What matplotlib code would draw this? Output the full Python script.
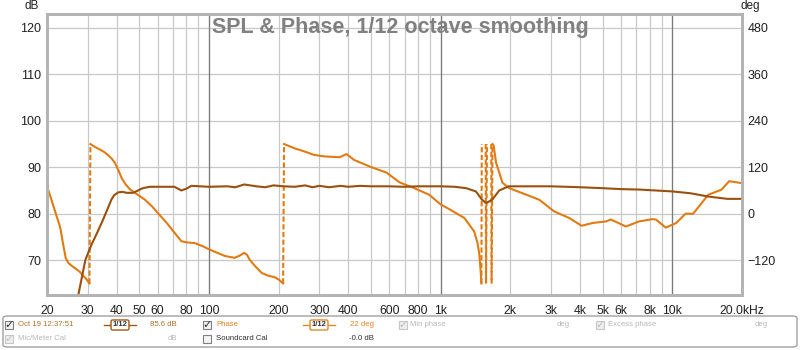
import matplotlib.pyplot as plt
import numpy as np
from matplotlib.patches import FancyBboxPatch, Rectangle

plt.rcParams['font.family'] = ['Liberation Sans', 'DejaVu Sans']

# SPL trace (dB)
spl_freq = [25.5, 27.3, 29.3, 31.1, 33.0, 34.9, 36.5, 37.9, 39.0, 40.6, 42.5, 44.1, 47.0, 49.0, 51.2,
            53.0, 55.6, 65, 71, 76, 80, 84,
            100, 120, 130, 142, 160, 175, 190, 210, 235, 260, 280, 300, 330, 370, 400, 450, 500,
            600, 700, 800, 1000, 1150, 1290, 1420, 1510, 1572, 1670, 1790, 1970, 2500, 3000,
            4000, 5000, 6000, 7230, 10000, 12000, 14300, 17300, 20000]
spl_db = [56, 62.5, 70.1, 73.3, 76.0, 78.7, 81.0, 83.0, 84.0, 84.6, 84.7, 84.5, 84.5, 84.9, 85.4,
          85.6, 85.8, 85.8, 85.8, 85.0, 85.4, 86.0,
          85.8, 85.9, 85.7, 86.3, 85.9, 85.7, 86.1, 85.9, 85.8, 86.1, 85.7, 86.0, 85.7, 86.0, 85.8, 86.0, 85.9,
          85.9, 85.8, 85.9, 85.9, 85.8, 85.5, 84.8, 83.0, 82.3, 83.0, 85.0, 85.9, 85.9, 85.9,
          85.7, 85.5, 85.3, 85.2, 84.8, 84.4, 83.7, 83.2, 83.2]

# Phase trace (deg, wrapped to +/-180, nan = gap)
phase_freq = [20, 20.8, 21.7, 22.8, 23.5, 24.1, 24.8, 25.6, 26.6, 27.7, 28.6, 29.5, 30.5,
              30.8, 32.3, 33.8, 35.2, 36.6, 38, 39.3, 40.7, 42, 43.8, 45.6, 49, 53, 57, 61,
              66, 71, 76, 80, 87, 94, 101, 117, 124, 129, 136, 142, 146, 150, 158, 169, 180, 192,
              200, 209, 211, 234, 258, 284, 316, 366,
              393, 423, 494, 585, 665, 770, 893, 1000, 1096, 1266, 1397, 1444, 1470, 1490, 1500,
              1506, 1530, 1566, 1571, 1585, 1620, 1655, 1660, 1675, 1695, 1735, 1850, 1980, 2300,
              2668, 3090, 3590, 4060, 4530, 5170, 5430, 6310, 7180, 8210, 8500, 9380, 10400,
              11400, 12300, 13050, 14300, 16300, 17600, 20000]
phase_deg = [71, 40, 5, -35, -80, -115, -128, -135, -142, -150, -160, -168, -180,
             180, 172, 166, 160, 152, 143, 131, 112, 92, 75, 63, 50, 36, 18, -2,
             -25, -49, -71, -74, -76, -84, -93, -109, -112, -114, -108, -101, -106, -119, -135, -153, -160, -164,
             -170, -180, 180, 169, 161, 152, 148, 146,
             154, 139, 122, 106, 81, 66, 49, 24, 11, -11, -46, -76, -105, -150, -180,
             180, np.nan, 180, -180, 180, np.nan, 180, -180, 180, 176, 132, 80, 66, 51,
             36, 6, -11, -31, -24, -20, -15, -33, -20, -14, -15, -36, -24,
             0, 0, 19, 49, 62, 84, 79]

x_ticks = [20, 30, 40, 50, 60, 80, 100, 200, 300, 400, 600, 800, 1000,
           2000, 3000, 4000, 5000, 6000, 8000, 10000, 20000]
x_labels = ['20', '30', '40', '50', '60', '80', '100', '200', '300', '400', '600', '800', '1k',
            '2k', '3k', '4k', '5k', '6k', '8k', '10k', '20.0kHz']
extra_grid = [70, 90, 500, 700, 900, 7000, 9000]
decades = [100, 1000, 10000]
db_ticks = [70, 80, 90, 100, 110, 120]
deg_ticks = [-120, 0, 120, 240, 360, 480]

spl_color = '#9a500e'
phase_color = '#e07b14'
W, H = 800, 350

fig = plt.figure(figsize=(8, 3.5), dpi=100)
ax = fig.add_axes([47 / W, 55 / H, 695 / W, 281 / H])
ax2 = ax.twinx()

ax.set_xscale('log')
for f in extra_grid:
    ax.axvline(f, color='#c8c8c8', lw=0.9, zorder=0.5)
for f in decades:
    ax.axvline(f, color='#7a7a7a', lw=0.9, zorder=0.6)
ax.grid(True, which='major', color='#c8c8c8', lw=0.9, zorder=0.4)
ax.set_axisbelow(True)

fig.text(0.5, 1 - 27 / H, 'SPL & Phase, 1/12 octave smoothing',
         ha='center', va='center', fontsize=15.5, fontweight='bold', color='#808080', zorder=1)

# phase: solid runs, dashed at wrap jumps
pf = np.array(phase_freq, dtype=float)
pd_ = np.array(phase_deg, dtype=float)
solid_f, solid_p = [], []
for i in range(len(pf)):
    if i > 0 and not np.isnan(pd_[i]) and not np.isnan(pd_[i - 1]) and abs(pd_[i] - pd_[i - 1]) > 180:
        ax.plot(pf[i - 1:i + 1], pd_[i - 1:i + 1], color=phase_color, lw=1.5, ls=(0, (2.5, 1.2)),
                transform=ax2.transData, zorder=2)
        solid_f.append(np.nan)
        solid_p.append(np.nan)
    solid_f.append(pf[i])
    solid_p.append(pd_[i])
ax.plot(solid_f, solid_p, color=phase_color, lw=1.5, transform=ax2.transData, zorder=2,
        solid_joinstyle='round')

ax.plot(spl_freq, spl_db, color=spl_color, lw=1.5, zorder=3, solid_joinstyle='round')

ax.set_xlim(20, 20000)
ax.set_ylim(62.5, 123)
ax2.set_ylim((62.5 - 80) * 12, (123 - 80) * 12)

ax.set_xticks(x_ticks)
ax.set_xticklabels(x_labels)
ax.xaxis.set_minor_locator(plt.NullLocator())
ax.set_yticks(db_ticks)
ax2.set_yticks(deg_ticks)
ax.tick_params(axis='both', length=0, labelsize=9, colors='#202020')
ax.tick_params(axis='x', pad=7, labelsize=8.7)
ax.tick_params(axis='y', pad=4)
ax2.tick_params(axis='y', length=0, labelsize=9, colors='#202020', pad=4)

for a in (ax, ax2):
    for s in a.spines.values():
        s.set_color('#b4b4b4')
        s.set_linewidth(2)

fig.text(32 / W, 1 - 6 / H, 'dB', ha='center', va='center', fontsize=8.5, color='#202020')
fig.text(750 / W, 1 - 6 / H, 'deg', ha='center', va='center', fontsize=8.5, color='#202020')

# legend panel
def fx(x):
    return x / W

def fy(y):
    return 1 - y / H

panel = FancyBboxPatch((fx(3), fy(347)), fx(794), 31 / H, boxstyle='round,pad=0,rounding_size=0.006',
                       transform=fig.transFigure, facecolor='white', edgecolor='#a0a0a0', lw=1)
fig.patches.append(panel)

def checkbox(x, y, checked, grey=False):
    box = Rectangle((fx(x), fy(y + 8)), 8 / W, 8 / H, transform=fig.transFigure,
                    facecolor='#eeeeee' if grey else '#f4f4f4',
                    edgecolor='#c8c8c8' if grey else '#808080', lw=0.8)
    fig.patches.append(box)
    if checked:
        fig.text(fx(x + 4.5), fy(y + 4), '\u2713', ha='center', va='center', fontsize=8,
                 fontweight='bold', color='#c0c0c0' if grey else '#303030', family='DejaVu Sans')

def badge(x, y, color):
    fig.add_artist(plt.Line2D([fx(x - 4), fx(x + 28)], [fy(y), fy(y)], color=color, lw=1,
                              transform=fig.transFigure))
    fig.text(fx(x + 12), fy(y), '1/12', ha='center', va='center', fontsize=5.5, color='#303030',
             fontweight='bold',
             bbox=dict(boxstyle='round,pad=0.2', facecolor='white', edgecolor=color, lw=1))

r1, r2 = 325, 339
fs = 5.6
checkbox(5, r1 - 4, True)
fig.text(fx(18), fy(r1), 'Oct 19 12:37:51', ha='left', va='center', fontsize=fs, color='#b0702a')
badge(108, r1, '#a05a14')
fig.text(fx(177), fy(r1), '85.6 dB', ha='right', va='center', fontsize=fs, color='#b0702a')
checkbox(203, r1 - 4, True)
fig.text(fx(216), fy(r1), 'Phase', ha='left', va='center', fontsize=fs, color='#e08020')
badge(307, r1, '#e08a2a')
fig.text(fx(374), fy(r1), '22 deg', ha='right', va='center', fontsize=fs, color='#e08020')
checkbox(399, r1 - 4, True, grey=True)
fig.text(fx(410), fy(r1), 'Min phase', ha='left', va='center', fontsize=fs, color='#b8b8b8')
fig.text(fx(570), fy(r1), 'deg', ha='right', va='center', fontsize=fs, color='#b8b8b8')
checkbox(596, r1 - 4, True, grey=True)
fig.text(fx(608), fy(r1), 'Excess phase', ha='left', va='center', fontsize=fs, color='#b8b8b8')
fig.text(fx(768), fy(r1), 'deg', ha='right', va='center', fontsize=fs, color='#b8b8b8')

checkbox(5, r2 - 4, True, grey=True)
fig.text(fx(18), fy(r2), 'Mic/Meter Cal', ha='left', va='center', fontsize=fs, color='#b8b8b8')
fig.text(fx(177), fy(r2), 'dB', ha='right', va='center', fontsize=fs, color='#b8b8b8')
checkbox(203, r2 - 4, False)
fig.text(fx(216), fy(r2), 'Soundcard Cal', ha='left', va='center', fontsize=fs, color='#303030')
fig.text(fx(374), fy(r2), '-0.0 dB', ha='right', va='center', fontsize=fs, color='#303030')

fig.savefig('out.png', dpi=100, facecolor='white')
